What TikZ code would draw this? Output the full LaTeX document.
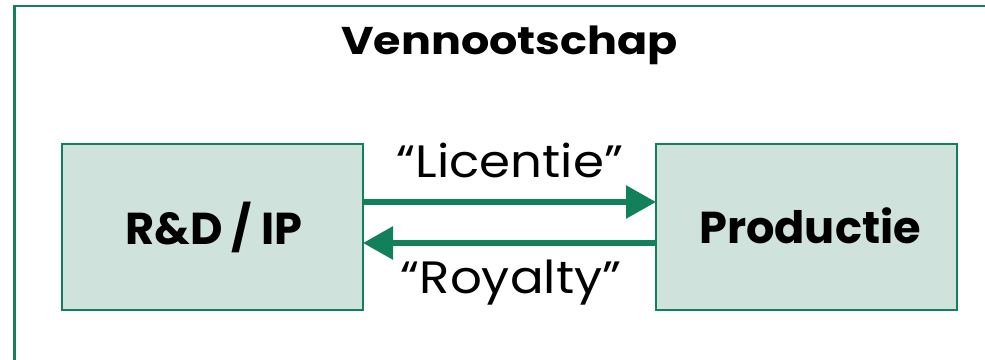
\documentclass[tikz,border=0pt]{standalone}
\usepackage{fontspec}
\setmainfont{Poppins}
\newfontfamily\widefont[FakeStretch=1.1]{Poppins}
\newfontfamily\titlefont[FakeStretch=1.15]{Poppins}
\usetikzlibrary{arrows.meta}
\definecolor{frameGreen}{HTML}{12805A}
\definecolor{boxFill}{HTML}{CFE3DC}
\tikzset{
  unitbox/.style={draw=frameGreen, line width=1.6pt, fill=boxFill},
  flow/.style={draw=frameGreen, line width=4.5pt,
    -{Triangle[length=22.5pt, width=24pt, fill=frameGreen]}, shorten >=0pt},
  boxlabel/.style={font=\fontsize{33.5}{36}\selectfont\bfseries, anchor=base},
  flowlabel/.style={font=\widefont\fontsize{34}{36}\selectfont, anchor=base},
}
\begin{document}
\begin{tikzpicture}[x=0.75pt, y=-0.75pt]
\useasboundingbox (0,0) rectangle (985,360);
% outer frame of the company, running off the right and bottom edges
\draw[frameGreen, line width=1.9pt] (14.5,380) -- (14.5,6) -- (1000,6);
\node[font=\titlefont\fontsize{29}{32}\selectfont\bfseries, anchor=base] (title) at (509.5,55) {Vennootschap};
% the two units
\path[unitbox] (62,144) rectangle (363,310);
\path[unitbox] (656,144) rectangle (957,310);
\node[boxlabel] (rd) at (214,244) {R\&D / IP};
\node[boxlabel] (prod) at (810,243) {Productie};
% flows between the units
\coordinate (licA) at (363,202);
\coordinate (licB) at (656,202);
\coordinate (royA) at (656,243);
\coordinate (royB) at (363,243);
\draw[flow] (licA) -- (licB);
\draw[flow] (royA) -- (royB);
\node[flowlabel] (lic) at (510,177) {“Licentie”};
\node[flowlabel] (roy) at (511,293) {“Royalty”};
\end{tikzpicture}
\end{document}
